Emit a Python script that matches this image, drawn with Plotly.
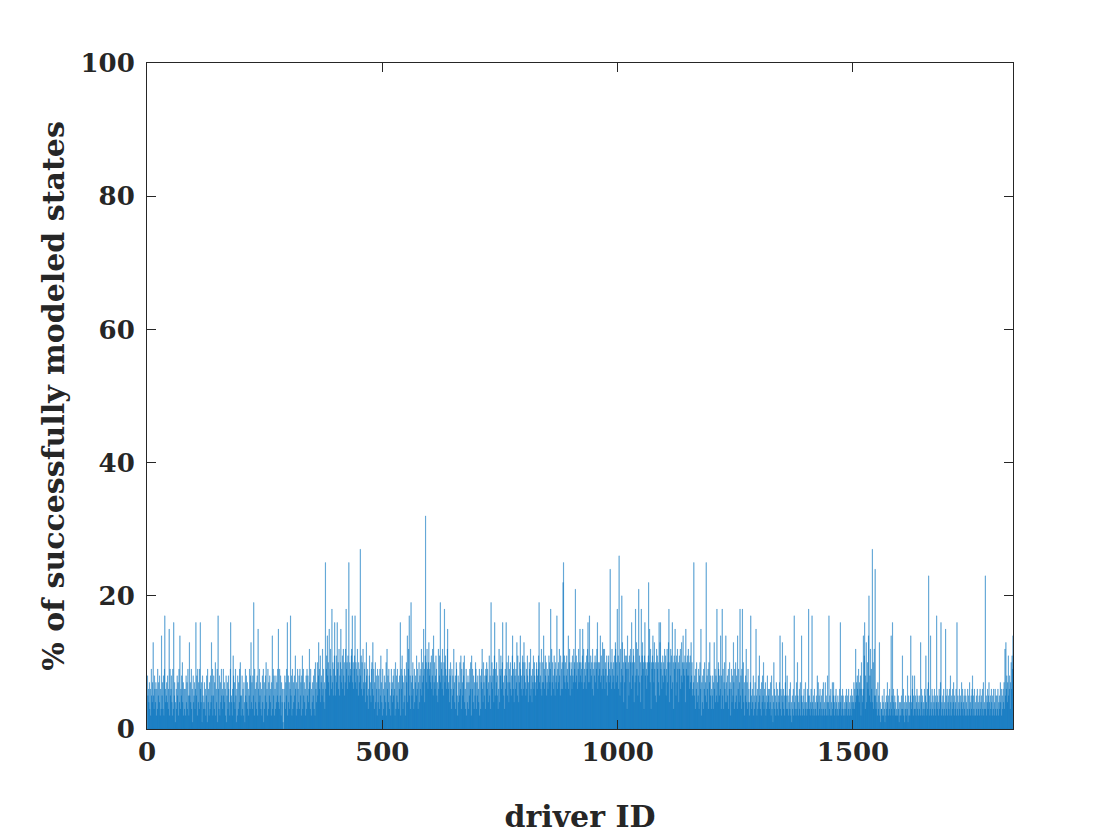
import plotly.graph_objects as go

# bar heights (% of states), one character per driver
# coded in base 36: '0'-'9' -> 0-9, 'a' -> 10 ... 'w' -> 32 ; 40 drivers per row
heights_coded = [
    "8564736295" "47d5386472" "6395748263" "e573829h64",
    "574836f295" "684293g571" "463857294e" "3658a47263",
    "628473952d" "5749361845" "736g582947" "39g6471853",
    "4736258194" "627384d592" "5837a26491" "h638274956",
    "3957462815" "7386429g54" "26b8473951" "6283749a52",
    "5836274195" "8473625938" "d47385j296" "47382f6495",
    "7362849173" "58a4629375" "84627e3958" "26384759f4",
    "3958274610" "6483759g28" "4736h58293" "7485b62739",
    "648395728b" "3957462839" "5846c73926" "4758392a64",
    "7a58d96b47" "85c69473p6" "9be8a7f59c" "86i7a59bg5",
    "8b7g9a6c58" "af79b6c8a5" "7ci9a6b8p7" "a98bch7a69",
    "bh7a96c85a" "79r8b6a5c7" "69a47d8593" "68b5749a6d",
    "5937a48629" "486395b742" "9638574a2c" "6849375296",
    "7485962a38" "5947368g29" "6b83749528" "a7e49ch583",
    "j758a63947" "85b6937a48" "69c57a8f94" "bwa7c96ad8",
    "9a7b68c5e7" "a68b9574c6" "8bj7a96c85" "ai7b968cf6",
    "7948a63958" "6c7483a952" "8475a6b397" "5a8b463927",
    "4837596a2b" "6948375a93" "7586492837" "9c64a75839",
    "8a6947b583" "j7a6894bg5" "97a5836c49" "8b69ag7583",
    "96g8a57b49" "7a658be694" "a8697d5b84" "7ae9685ba6",
    "d8a7596b84" "7a95c68497" "b6a8759a68" "9bj7a86c57",
    "a7e96b8a57" "968ba79i5c" "7a86b95a78" "h69a7c85b6",
    "9a6mp8b7a6" "8b97e6ac58" "a96b87ca9l" "7b8a69c7af",
    "8a97bf6c79" "a86b9cg7ah" "79b8a6c95a" "8b7a9cg6a8",
    "a9e7b86d9c" "8c6a97b58a" "b79o8a6c97" "a8b6dc7ai8",
    "b6qa5c79kd" "8a4c7ba9b3" "e9a5b7ca6g" "a8cb4a7i8d",
    "9c58lb7a4i" "8bd9a3bg8a" "96a8bmaf7c" "3a9bea7d95",
    "a4cb9a7g5d" "g9a68b7a9c" "8b59c7adi4" "a8cb6g7a3b",
    "9fa5b7c9a4" "b9c68d7ae9" "a8b4f9a8bc" "8a6b7d8a56",
    "7p58396a47" "5938a6f274" "8396a57p48" "693a7d5836",
    "5837d69485" "i74a9586e3" "8i5937a64e" "7485936a72",
    "69485d7394" "a583e6947i" "5839i6a472" "58c4739462",
    "47h5364825" "374f526384" "b53627485a" "3647253846",
    "5364728351" "4a63527436" "2547e3625d" "463527b538",
    "3524637241" "5362h43527" "3a52463725" "e425362473",
    "42635i3524" "63h4253624" "3528472536" "4253627342",
    "73524824h3" "5264273574" "2536423524" "36g4253652",
    "3425364253" "6243526453" "47364c5786" "5947682a64",
    "5e6bg38d47" "a6ek58c496" "r4a3c5o536" "42735d2413",
    "3524263142" "5374253624" "e35g264352" "4236253142",
    "4253b36241" "3524381524" "25e3468253" "8352463524",
    "352d462534" "2635b42637" "n253e42635" "2463524h35",
    "426357g243" "526342f536" "2453628425" "3647253462",
    "g352463524" "7362453625" "4236253742" "5368253624",
    "2536243526" "3452637243" "n352463574" "2536425362",
    "4635253624" "5374625364" "73c5d6847b" "56837a6b9e",
]

for row in heights_coded:
    assert len(row) == 40, row

success_pct = [int(c, 36) for row in heights_coded for c in row]
driver_id = list(range(1, len(success_pct) + 1))

x_ticks = [0, 500, 1000, 1500]
y_ticks = [0, 20, 40, 60, 80, 100]

ink = "#262626"
bar_blue = "#0072BD"
font_family = "DejaVu Serif"

fig = go.Figure(
    go.Bar(
        x=driver_id,
        y=success_pct,
        marker=dict(color=bar_blue, line=dict(color=bar_blue, width=0.25)),
        showlegend=False,
    )
)

axis_common = dict(
    showline=True,
    linecolor=ink,
    linewidth=1,
    mirror="ticks",
    ticks="inside",
    ticklen=9,
    tickwidth=1,
    tickcolor=ink,
    showgrid=False,
    zeroline=False,
    tickfont=dict(family=font_family, size=26, color=ink, weight="bold"),
)

fig.update_xaxes(
    range=[0, 1840],
    tickvals=x_ticks,
    title=dict(text="driver ID", font=dict(family=font_family, size=30, color=ink, weight="bold"),
               standoff=39),
    **axis_common,
)
fig.update_yaxes(
    range=[0, 100],
    tickvals=y_ticks,
    ticklabelstandoff=6,
    title=dict(text="% of successfully modeled states",
               font=dict(family=font_family, size=30, color=ink, weight="bold"),
               standoff=7),
    **axis_common,
)

# the page body has an 8px margin, so the plot box is shifted up/left by that
fig.update_layout(
    width=1120,
    height=840,
    margin=dict(l=139, r=115, t=55, b=119, autoexpand=False),
    paper_bgcolor="white",
    plot_bgcolor="white",
    bargap=0.2,
)

# staticPlot keeps the thin bars un-rounded, so they blend like the original
fig.write_html("out.html", config=dict(staticPlot=True))
